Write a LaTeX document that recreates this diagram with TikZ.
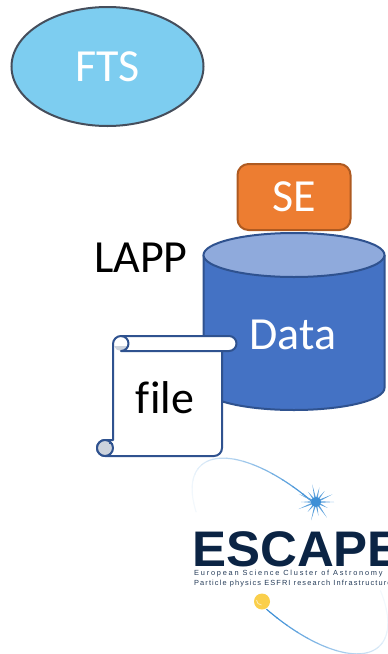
\documentclass[tikz,border=0pt]{standalone}
\usepackage{fontspec}
\setmainfont{Carlito}
\newfontfamily\logofont{Liberation Sans}
\newfontfamily\taglineA[LetterSpace=24]{Liberation Sans}
\newfontfamily\taglineB[LetterSpace=15]{Liberation Sans}
\usetikzlibrary{shapes.geometric,calc}
\definecolor{ftsblue}{HTML}{7DCDF0}
\definecolor{ftsline}{HTML}{454E5C}
\definecolor{seorange}{HTML}{ED7D31}
\definecolor{seline}{HTML}{AE5A21}
\definecolor{dbblue}{HTML}{4472C4}
\definecolor{dbtop}{HTML}{8FAADC}
\definecolor{dbline}{HTML}{2F528F}
\definecolor{curlgrey}{HTML}{CDD3DC}
\definecolor{logonavy}{HTML}{0B2444}
\definecolor{logoblue}{HTML}{3D8FD6}
\definecolor{logosun}{HTML}{FACF4B}
\tikzset{
  bigtext/.style={font=\fontsize{46}{46}\selectfont,inner sep=0pt},
  fts/.style={ellipse,draw=ftsline,line width=2pt,fill=ftsblue,text=white,bigtext,
    minimum width=192pt,minimum height=119pt},
  se/.style={rectangle,rounded corners=11pt,draw=seline,line width=2pt,fill=seorange,text=white,bigtext,
    minimum width=113pt,minimum height=66pt},
  dbshape/.style={draw=dbline,line width=2pt},
  scrollline/.style={draw=dbline,line width=2pt,line join=round},
}
\begin{document}
\begin{tikzpicture}[x=1pt,y=-1pt]
\useasboundingbox (0,0) rectangle (388,654);
\clip (0,0) rectangle (388,654);

% logo
\begin{scope}[shift={(290,556)},rotate=-45]
  \foreach \t in {140,146,...,254} {
    \pgfmathsetmacro{\shade}{6+94*((\t-140)/114)^2}
    \draw[logoblue!\shade!white,line width=1.2pt]
      plot[domain=\t:\t+6.5,samples=4] ({127*cos(\x)},{55*sin(\x)});
  }
  \foreach \t in {-46,-40,...,74} {
    \pgfmathsetmacro{\shade}{6+94*((\t+46)/120)^2}
    \draw[logoblue!\shade!white,line width=1.2pt]
      plot[domain=\t:\t+6.5,samples=4] ({127*cos(\x)},{55*sin(\x)});
  }
\end{scope}
\coordinate (star) at (316,502);
\foreach \a/\r in {0/18,27/13,55/19,80/14,105/19,130/13,158/19,180/15,205/19,232/13,258/18,283/15,308/14,335/18} {
  \fill[logoblue!85] ($(star)+(\a+14:3.5)$) -- ($(star)+(\a:\r)$) -- ($(star)+(\a-14:3.5)$) -- cycle;
}
\fill[logoblue] (star) circle (5);
\node[circle,fill=logosun,minimum size=16pt,inner sep=0pt] (sun) at (262,601.5) {};
\draw[white!60!logosun,line width=.8pt] (256.5,600) arc[start angle=180,end angle=90,radius=5];
\node[anchor=west,inner sep=0pt,text=logonavy,font=\logofont\bfseries\fontsize{50}{50}\selectfont,xscale=1.02] (escape) at (192,549) {ESCAPE};
\node[anchor=west,inner sep=0pt,text=logonavy!90,font=\taglineA\fontsize{7.4}{8}\selectfont] (tagone) at (194,574) {European Science Cluster of Astronomy};
\node[anchor=west,inner sep=0pt,text=logonavy!90,font=\taglineB\fontsize{7.4}{8}\selectfont] (tagtwo) at (194,584) {Particle physics ESFRI research Infrastructure};

% storage
\node[fts] (fts) at (107.5,66.5) {FTS};
\node[se] (se) at (294,197) {SE};
\draw[dbshape,fill=dbblue] (203.5,255) -- (203.5,388) arc[start angle=180,end angle=0,x radius=90.5,y radius=22] -- (384.5,255);
\draw[dbshape,fill=dbtop] (294,255) ellipse[x radius=90.5,y radius=22];
\node[bigtext,text=white] (data) at (293,335) {Data};
\node[bigtext] (lapp) at (141,258) {LAPP};

% scroll
\draw[scrollline,fill=white] (121,336) -- (229,336) arc[start angle=-90,end angle=90,radius=7.5]
  -- (222,351) -- (222,448) arc[start angle=0,end angle=90,radius=8] -- (105,456)
  arc[start angle=90,end angle=270,radius=8] -- (113,440) -- (113,344)
  arc[start angle=180,end angle=270,radius=8];
\fill[curlgrey] (115,346) -- (127,346) -- (127,349) -- (121,351) arc[start angle=90,end angle=160,radius=7.5] -- cycle;
\draw[scrollline] (121,336) arc[start angle=-90,end angle=90,radius=7.5] -- (222,351);
\draw[scrollline,fill=curlgrey] (105,448) circle (8);
\draw[dbline,line width=1pt] (109,443) -- (113,443);
\node[bigtext] (file) at (165,398) {f\kern0pt ile};
\end{tikzpicture}
\end{document}
